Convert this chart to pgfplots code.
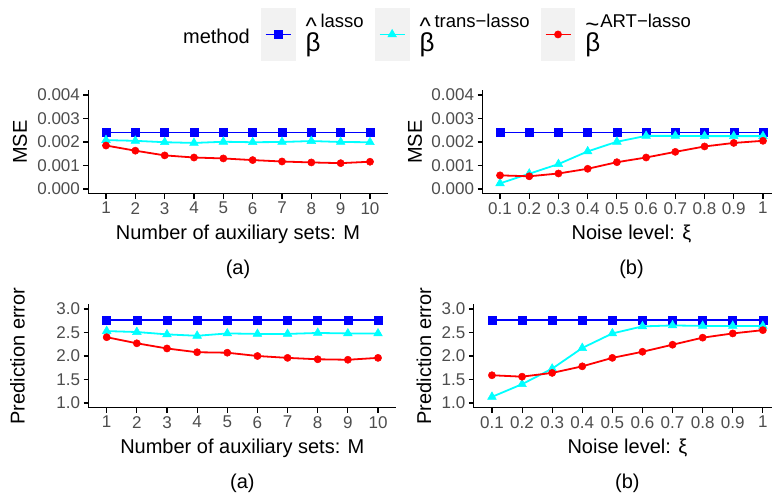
\documentclass[border=0pt]{standalone}
\usepackage{fontspec}
\setmainfont{Liberation Sans}
\usepackage{pgfplots}
\usepackage{pgfplotstable}
\pgfplotsset{compat=1.18}

\definecolor{tickgray}{HTML}{4D4D4D}
\definecolor{keygray}{HTML}{F2F2F2}
\definecolor{ggblue}{RGB}{0,0,255}
\definecolor{ggcyan}{RGB}{0,255,255}
\definecolor{ggred}{RGB}{255,0,0}

% panel (a): number of auxiliary sets M
\pgfplotstableread{
M lasso trans art
1 0.00240 0.00208 0.00185
2 0.00240 0.00205 0.00163
3 0.00240 0.00199 0.00143
4 0.00240 0.00196 0.00134
5 0.00240 0.00201 0.00130
6 0.00240 0.00199 0.00123
7 0.00240 0.00200 0.00117
8 0.00240 0.00204 0.00113
9 0.00240 0.00200 0.00110
10 0.00240 0.00199 0.00116
}\mseM
\pgfplotstableread{
xi lasso trans art
0.1 0.00240 0.00024 0.00058
0.2 0.00240 0.00065 0.00054
0.3 0.00240 0.00106 0.00066
0.4 0.00240 0.00160 0.00086
0.5 0.00240 0.00201 0.00114
0.6 0.00240 0.00226 0.00134
0.7 0.00240 0.00226 0.00158
0.8 0.00240 0.00225 0.00181
0.9 0.00240 0.00225 0.00196
1.0 0.00240 0.00225 0.00205
}\mseXi
\pgfplotstableread{
M lasso trans art
1 2.76 2.53 2.40
2 2.76 2.51 2.27
3 2.76 2.46 2.16
4 2.76 2.43 2.08
5 2.76 2.48 2.07
6 2.76 2.47 2.00
7 2.76 2.47 1.96
8 2.76 2.49 1.93
9 2.76 2.48 1.92
10 2.76 2.48 1.96
}\peM
\pgfplotstableread{
xi lasso trans art
0.1 2.76 1.13 1.59
0.2 2.76 1.40 1.56
0.3 2.76 1.73 1.64
0.4 2.76 2.17 1.78
0.5 2.76 2.48 1.96
0.6 2.76 2.63 2.09
0.7 2.76 2.65 2.24
0.8 2.76 2.64 2.39
0.9 2.76 2.64 2.48
1.0 2.76 2.64 2.55
}\peXi

\newcommand{\accb}[3]{\raisebox{0pt}[36pt][3pt]{%
  \makebox[0pt][l]{\raisebox{#1}{\fontsize{24}{24}\selectfont #2}}%
  {\fontsize{26}{26}\selectfont β}%
  \raisebox{24pt}{\fontsize{18.5}{18.5}\selectfont #3}}}

\pgfplotsset{
  panel/.style={
    scale only axis, anchor=south west, clip mode=individual,
    axis x line*=bottom, axis y line*=left,
    axis line style={-, line width=1.1pt, black},
    tick align=outside, major tick length=5pt,
    every tick/.style={line width=1.1pt, black},
    tick label style={font=\fontsize{17}{20}\selectfont, text=tickgray},
    label style={font=\fontsize{20}{24}\selectfont},
    scaled y ticks=false,
    xlabel style={at={(axis description cs:0.5,-0.39)}, anchor=center},
  },
  keyimg/.style={legend image code/.code={
    \fill[keygray] (0pt,-25.5pt) rectangle (33pt,25.5pt);
    \draw[mark repeat=2, mark phase=2, ##1] plot coordinates {(4pt,0pt) (16.5pt,0pt) (29pt,0pt)};}},
  lasso/.style={ggblue, line width=1.8pt, mark=square*, mark size=4pt, mark options={line width=0.5pt}, keyimg},
  trans/.style={ggcyan, line width=1.8pt, mark=triangle*, mark size=5pt, mark options={line width=0.5pt}, keyimg},
  art/.style={ggred, line width=1.8pt, mark=*, mark size=3.6pt, mark options={line width=0.5pt}, keyimg},
  mseaxis/.style={ymin=-0.0002, ymax=0.0042,
    ytick={0,0.001,0.002,0.003,0.004},
    yticklabels={0.000,0.001,0.002,0.003,0.004}, ylabel={MSE}},
  peaxis/.style={ymin=0.9, ymax=3.1,
    ytick={1,1.5,2,2.5,3},
    yticklabels={1.0,1.5,2.0,2.5,3.0}, ylabel={Prediction error}},
  Maxis/.style={xmin=0.4, xmax=10.6, xtick={1,...,10},
    xticklabels={1,2,3,4,5,6,7,8,9,10}, xlabel={Number of auxiliary sets: M}},
  xiaxis/.style={xmin=0.04, xmax=1.06, xtick={0.1,0.2,0.3,0.4,0.5,0.6,0.7,0.8,0.9,1.0},
    xticklabels={0.1,0.2,0.3,0.4,0.5,0.6,0.7,0.8,0.9,1}, xlabel={Noise level: ξ}},
}

\begin{document}
\begin{tikzpicture}
% top left
\begin{axis}[panel, mseaxis, Maxis, at={(88.4pt,300.3pt)}, width=299.2pt, height=103.4pt,
  ylabel style={at={(axis description cs:-0.229,0.5)}, anchor=center},
  legend columns=4,
  legend style={draw=none, fill=none, at={(1.157,1.54)}, anchor=center,
    font=\fontsize{20}{24}\selectfont,
    nodes={inner xsep=5pt, inner ysep=0pt},
    /tikz/every odd column/.append style={column sep=5pt},
    /tikz/every even column/.append style={column sep=6pt}},
  legend cell align=left]
\addlegendimage{empty legend}
\addlegendentry{\raisebox{0pt}[20pt][3pt]{method}}
\addplot[lasso] table[x=M, y=lasso] {\mseM};
\addlegendentry{\accb{17pt}{\textasciicircum}{lasso}}
\addplot[trans] table[x=M, y=trans] {\mseM};
\addlegendentry{\accb{17pt}{\textasciicircum}{trans−lasso}}
\addplot[art] table[x=M, y=art] {\mseM};
\addlegendentry{\accb{19pt}{\textasciitilde}{ART−lasso}}
\node[font=\fontsize{20}{24}\selectfont] at (axis description cs:0.5,-0.728) {(a)};
\end{axis}
% top right
\begin{axis}[panel, mseaxis, xiaxis, at={(482.5pt,300.3pt)}, width=298pt, height=103.4pt,
  ylabel style={at={(axis description cs:-0.2265,0.5)}, anchor=center}]
\addplot[lasso] table[x=xi, y=lasso] {\mseXi};
\addplot[trans] table[x=xi, y=trans] {\mseXi};
\addplot[art] table[x=xi, y=art] {\mseXi};
\node[font=\fontsize{20}{24}\selectfont] at (axis description cs:0.5,-0.728) {(b)};
\end{axis}
% bottom left
\begin{axis}[panel, peaxis, Maxis, at={(88.6pt,86.3pt)}, width=307.5pt, height=103.4pt,
  ylabel style={at={(axis description cs:-0.231,0.5)}, anchor=center}]
\addplot[lasso] table[x=M, y=lasso] {\peM};
\addplot[trans] table[x=M, y=trans] {\peM};
\addplot[art] table[x=M, y=art] {\peM};
\node[font=\fontsize{20}{24}\selectfont] at (axis description cs:0.5,-0.728) {(a)};
\end{axis}
% bottom right
\begin{axis}[panel, peaxis, xiaxis, at={(473.9pt,86.3pt)}, width=307pt, height=103.4pt,
  ylabel style={at={(axis description cs:-0.163,0.5)}, anchor=center}]
\addplot[lasso] table[x=xi, y=lasso] {\peXi};
\addplot[trans] table[x=xi, y=trans] {\peXi};
\addplot[art] table[x=xi, y=art] {\peXi};
\node[font=\fontsize{20}{24}\selectfont] at (axis description cs:0.5,-0.728) {(b)};
\end{axis}
\pgfresetboundingbox
\path[use as bounding box] (0pt,0pt) rectangle (772pt,494pt);
\end{tikzpicture}
\end{document}
